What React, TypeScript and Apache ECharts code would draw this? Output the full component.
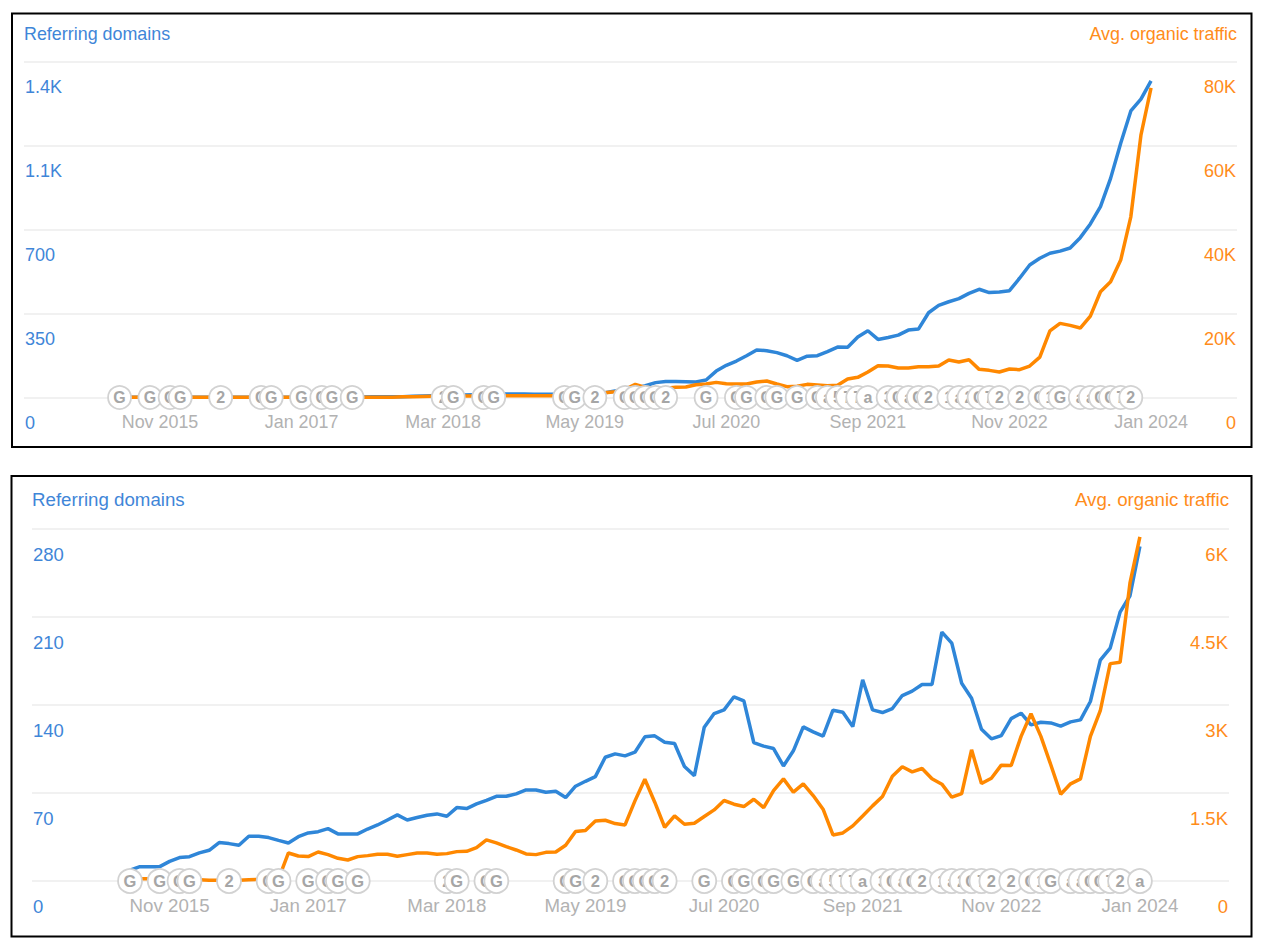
import React, { useEffect, useRef } from "react";
import * as echarts from "echarts";

const xLabelMonths = [4, 18, 32, 46, 60, 74, 88, 102];
const xLabelTexts = ["Nov 2015", "Jan 2017", "Mar 2018", "May 2019", "Jul 2020", "Sep 2021", "Nov 2022", "Jan 2024"];

const topLeftTicks = ["0", "350", "700", "1.1K", "1.4K"];
const topRightTicks = ["0", "20K", "40K", "60K", "80K"];
const bottomLeftTicks = ["0", "70", "140", "210", "280"];
const bottomRightTicks = ["0", "1.5K", "3K", "4.5K", "6K"];

const topDomains = [
  1, 1, 1, 1, 1, 1, 1, 1, 1, 1, 1, 1, 1, 1, 1, 1, 1, 1, 1, 1, 1,
  2, 2, 2, 2, 3, 3, 3, 3, 5, 6, 7, 8, 9, 10, 11, 12,
  14, 15, 15, 15, 14, 14, 14, 17, 17, 17, 17,
  20, 27, 31, 38, 49, 62, 67, 67, 66, 65, 73, 110, 134, 152, 174, 198,
  195, 187, 174, 155, 172, 174, 191, 210, 209, 252, 278, 242, 250, 260, 281, 285, 353, 384, 399, 412, 434, 451, 437, 440, 445,
  497, 552, 580, 601, 610, 623, 666, 723, 795, 913, 1059, 1194, 1243, 1319,
];
const topTraffic = [
  50, 50, 50, 50, 50, 50, 50, 50, 50, 50, 50, 50, 50, 50, 50, 50, 50, 50, 50, 50, 50, 50, 50, 50, 50, 50, 50, 50,
  150, 200, 250, 300, 300, 350, 350, 350, 350,
  400, 400, 400, 400, 400, 400, 400, 500, 600, 1150, 1150, 1150, 1390, 1940, 3130, 2420, 2180, 2180, 2420, 2500, 3050, 3210, 3600, 3290, 3210, 3210, 3690,
  3925, 3210, 2577, 2657, 3132, 2974, 2815, 2894, 4400, 4800, 6066, 7573, 7494, 7018, 7018, 7335, 7335, 7494, 8921, 8446, 9000, 6700, 6463, 6066, 6780, 6622, 7494,
  9600, 15850, 17644, 17168, 16534, 19388, 25178, 27557, 32711, 43019, 62450, 73720,
];

const bottomDomains = [
  8.7, 11.4, 11.4, 11.4, 15.6, 18.6, 19.3, 22.3, 24.4, 30.5, 29.7, 28.4, 35.5, 35.5, 34.5, 32.3, 30.2,
  35.2, 38.2, 39.2, 41.6, 37.4, 37.4, 37.4, 41.3, 44.5, 48.5, 52.5, 48.5, 50.4, 52.2, 53.3, 51.4, 58.3,
  57.5, 61.2, 64.1, 67.3, 67.3, 69.2, 72.3, 72.3, 70.5, 71.3, 66.3, 75.3, 79.2, 82.9,
  98.3, 101, 99.4, 102.3, 114.5, 115.3, 110.2, 109.2, 90.9, 83.7, 122.2, 133, 135.9, 146.3, 143.1,
  110, 107.1, 105.2, 91.4, 103.4, 122.4, 118.5, 115, 135.7, 134.1, 122.7, 159.8, 135.9, 133.8, 137,
  147.3, 150.8, 156.1, 156.1, 197.7, 188.9, 157.1, 145.2, 120.6, 112.9, 115.5, 129, 133.3, 124, 126.1,
  125.6, 123, 126.4, 128, 142.6, 175.4, 185, 213.6, 226.6, 265.8,
];
const bottomTraffic = [
  30, 40, 40, 34, 34, 30, 28, 23, 11, 11, 11, 11, 23, 28, 34, 34, 477, 426, 415, 494, 449, 386, 358, 415,
  432, 454, 454, 420, 449, 477, 477, 454, 466, 500, 505, 568, 699, 648, 585, 528, 460, 449, 488, 494, 608,
  841, 858, 1022, 1034, 977, 955, 1364, 1733, 1341, 915, 1108, 966, 983, 1097, 1210, 1370, 1307, 1267, 1392,
  1250, 1540, 1739, 1512, 1654, 1455, 1222, 784, 818, 938, 1108, 1279, 1438, 1784, 1944, 1858, 1915, 1739,
  1648, 1426, 1489, 2233, 1659, 1750, 1972, 1966, 2461, 2847, 2461, 1978, 1478, 1654, 1739, 2461, 2898,
  3700, 3722, 5075, 5859,
];

const eventMonths = [
  0, 3, 5, 6, 10, 14, 15, 18, 20, 21, 23, 32, 33, 36, 37, 44, 45, 47, 50, 51, 52, 53, 54, 58, 61, 62, 64, 65, 67, 69, 70,
  71, 72, 73, 74, 76, 77, 78, 79, 80, 82, 83, 84, 85, 86, 87, 89, 91, 92, 93, 95, 96, 97, 98, 99, 100,
];
const eventLabels = [
  "G", "G", "G", "G", "2", "G", "G", "G", "G", "G", "G", "2", "G", "G", "G", "G", "G", "2", "G", "G", "G", "G", "2", "G", "G", "G", "G", "G", "G", "G", "a",
  "5", "7", "7", "a", "3", "G", "a", "G", "2", "1", "a", "2", "G", "7", "2", "2", "G", "1", "G", "a", "a", "G", "G", "7", "2",
];
const bottomExtraEventMonths = [102];
const bottomExtraEventLabels = ["a"];

const BLUE = "#2f86d8";
const ORANGE = "#ff8800";
const BLUE_TEXT = "#3f86d8";
const ORANGE_TEXT = "#ff8c1a";
const FONT = "'Liberation Sans', Arial, sans-serif";

function pairs(values: number[]) {
  return values.map((v, i) => [i, v]);
}

function eventSeries(xAxisIndex: number, yAxisIndex: number, months: number[], labels: string[], radius: number) {
  return {
    type: "custom",
    xAxisIndex,
    yAxisIndex,
    z: 5,
    silent: true,
    clip: false,
    encode: { x: 0, y: 1 },
    data: months.map((m) => [m, 0]),
    renderItem: (params: any, api: any) => {
      const p = api.coord([api.value(0), 0]);
      const n = params.dataIndex * 2;
      return {
        type: "group",
        children: [
          {
            type: "circle",
            z2: n,
            shape: { cx: p[0], cy: p[1], r: radius },
            style: { fill: "#ffffff", stroke: "#d2d2d2", lineWidth: 1.8 },
          },
          {
            type: "text",
            z2: n + 1,
            x: p[0],
            y: p[1],
            style: {
              text: labels[params.dataIndex],
              fill: "#a6a6a6",
              font: `bold ${radius + 4.5}px ${FONT}`,
              align: "center",
              verticalAlign: "middle",
            },
          },
        ],
      };
    },
  };
}

function yAxis(max: number, ticks: string[], position: "left" | "right", color: string, gridIndex: number, fontSize: number, grid: boolean) {
  return {
    type: "value",
    gridIndex,
    position,
    min: 0,
    max,
    interval: max / 4,
    axisLine: { show: false },
    axisTick: { show: false },
    splitLine: { show: grid, lineStyle: { color: "#ececec", width: 1.5 } },
    axisLabel: {
      inside: true,
      margin: 1,
      color,
      fontSize,
      fontFamily: FONT,
      verticalAlign: "top",
      padding: [16, 0, 0, 0],
      formatter: (v: number) => ticks[Math.round(v / (max / 4))],
    },
  };
}

function xAxis(gridIndex: number, min: number, max: number, fontSize: number, margin: number) {
  return {
    type: "value",
    gridIndex,
    min,
    max,
    axisLine: { show: false },
    axisTick: { show: false },
    splitLine: { show: false },
    axisLabel: {
      customValues: xLabelMonths,
      color: "#b2b2b2",
      fontSize,
      fontFamily: FONT,
      margin,
      formatter: (v: number) => xLabelTexts[xLabelMonths.indexOf(v)],
    },
  };
}

function title(text: string, color: string, fontSize: number, top: number, side: any) {
  return { text, top, ...side, padding: 0, textStyle: { color, fontSize, fontWeight: "normal", fontFamily: FONT } };
}

export default function App() {
  const ref = useRef<HTMLDivElement>(null);
  useEffect(() => {
    const chart = echarts.init(ref.current!, undefined, { renderer: "svg" });
    chart.setOption({
      animation: false,
      backgroundColor: "#ffffff",
      title: [
        title("Referring domains", BLUE_TEXT, 17.9, 24.5, { left: 24 }),
        title("Avg. organic traffic", ORANGE_TEXT, 17.9, 24.5, { right: 24 }),
        title("Referring domains", BLUE_TEXT, 18.7, 490, { left: 32 }),
        title("Avg. organic traffic", ORANGE_TEXT, 18.7, 490, { right: 32 }),
      ],
      graphic: [
        { type: "rect", silent: true, shape: { x: 12, y: 13.5, width: 1239.5, height: 433.5 }, style: { fill: "none", stroke: "#000", lineWidth: 2 } },
        { type: "rect", silent: true, shape: { x: 11.5, y: 476, width: 1240, height: 460.5 }, style: { fill: "none", stroke: "#000", lineWidth: 2 } },
      ],
      grid: [
        { left: 24, right: 24, top: 61.5, height: 336 },
        { left: 32, right: 32, top: 528.5, height: 352.5 },
      ],
      xAxis: [xAxis(0, -9.45, 110.5, 17.9, 15), xAxis(1, -9.9, 111, 18.7, 15)],
      yAxis: [
        yAxis(1400, topLeftTicks, "left", BLUE_TEXT, 0, 18, true),
        yAxis(80000, topRightTicks, "right", ORANGE_TEXT, 0, 18, false),
        yAxis(280, bottomLeftTicks, "left", BLUE_TEXT, 1, 18.5, true),
        yAxis(6000, bottomRightTicks, "right", ORANGE_TEXT, 1, 18.5, false),
      ],
      series: [
        { type: "line", xAxisIndex: 0, yAxisIndex: 0, data: pairs(topDomains), symbol: "none", lineStyle: { color: BLUE, width: 3.5 }, z: 3 },
        { type: "line", xAxisIndex: 0, yAxisIndex: 1, data: pairs(topTraffic), symbol: "none", lineStyle: { color: ORANGE, width: 3.5 }, z: 4 },
        eventSeries(0, 0, eventMonths, eventLabels, 11.5),
        { type: "line", xAxisIndex: 1, yAxisIndex: 2, data: pairs(bottomDomains), symbol: "none", lineStyle: { color: BLUE, width: 3.5 }, z: 3 },
        { type: "line", xAxisIndex: 1, yAxisIndex: 3, data: pairs(bottomTraffic), symbol: "none", lineStyle: { color: ORANGE, width: 3.5 }, z: 4 },
        eventSeries(1, 2, eventMonths.concat(bottomExtraEventMonths), eventLabels.concat(bottomExtraEventLabels), 12),
      ],
    });
    return () => chart.dispose();
  }, []);
  return <div ref={ref} style={{ position: "absolute", left: 0, top: 0, width: 1261, height: 943 }} />;
}
